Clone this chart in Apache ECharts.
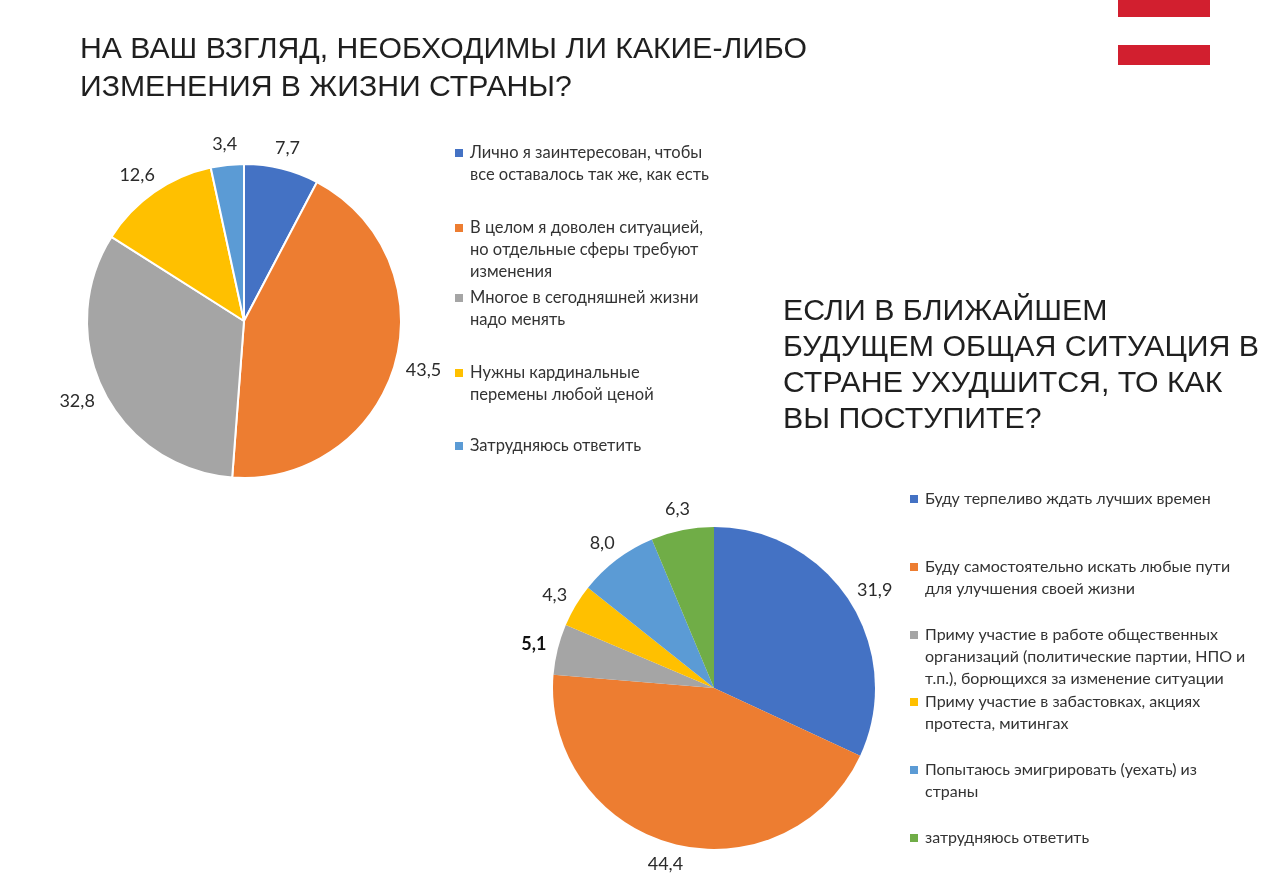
<!DOCTYPE html>
<html><head><meta charset="utf-8">
<script src="https://cdn.jsdelivr.net/npm/echarts@6/dist/echarts.min.js"></script>
<style>html,body{margin:0;padding:0;background:#fff}#c{width:1283px;height:891px}</style>
</head><body><div id="c"></div>
<script>
// ---- data ----
const title1 = "НА ВАШ ВЗГЛЯД, НЕОБХОДИМЫ ЛИ КАКИЕ-ЛИБО\nИЗМЕНЕНИЯ В ЖИЗНИ СТРАНЫ?";
const title2 = "ЕСЛИ В БЛИЖАЙШЕМ\nБУДУЩЕМ ОБЩАЯ СИТУАЦИЯ В\nСТРАНЕ УХУДШИТСЯ, ТО КАК\nВЫ ПОСТУПИТЕ?";
const categories1 = [
  "Лично я заинтересован, чтобы\nвсе оставалось так же, как есть",
  "В целом я доволен ситуацией,\nно отдельные сферы требуют\nизменения",
  "Многое в сегодняшней жизни\nнадо менять",
  "Нужны кардинальные\nперемены любой ценой",
  "Затрудняюсь ответить"
];
const values1 = [7.7, 43.5, 32.8, 12.6, 3.4];
const categories2 = [
  "Буду терпеливо ждать лучших времен",
  "Буду самостоятельно искать любые пути\nдля улучшения своей жизни",
  "Приму участие в работе общественных\nорганизаций (политические партии, НПО и\nт.п.), борющихся за изменение ситуации",
  "Приму участие в забастовках, акциях\nпротеста, митингах",
  "Попытаюсь эмигрировать (уехать) из\nстраны",
  "затрудняюсь ответить"
];
const values2 = [31.9, 44.4, 5.1, 4.3, 8.0, 6.3];

// ---- styles / layout ----
const colors1 = ["#4472C4", "#ED7D31", "#A5A5A5", "#FFC000", "#5B9BD5"];
const colors2 = ["#4472C4", "#ED7D31", "#A5A5A5", "#FFC000", "#5B9BD5", "#70AD47"];
const legend1Y = [153, 228, 298, 373, 446];
const legend2Y = [499, 567, 635, 702, 770, 838];
const FONT = "Lato";
const LABEL_GAP = 12;
const fmt = v => v.toFixed(1).replace('.', ',');

function legendGraphics(names, colors, ys, x, size) {
  const g = [];
  names.forEach((n, i) => {
    g.push({type: 'rect', shape: {x: x, y: ys[i] - 4, width: 8, height: 8}, style: {fill: colors[i]}});
    g.push({type: 'text', x: x + 15, y: ys[i] - 11, style: {text: n, font: size + 'px ' + FONT, fill: '#333', lineHeight: 22, textVerticalAlign: 'top'}});
  });
  return g;
}

// place each label centred just outside its slice, like Excel's "outside end"
function excelLabelLayout(params) {
  const pts = params.labelLinePoints;
  if (!pts) return {};
  const p0 = pts[0], p1 = pts[1];
  let dx = p1[0] - p0[0], dy = p1[1] - p0[1];
  const len = Math.sqrt(dx * dx + dy * dy) || 1;
  dx /= len; dy /= len;
  const w = params.labelRect.width, h = params.labelRect.height;
  return {
    x: p0[0] + dx * LABEL_GAP + dx * w / 2,
    y: p0[1] + dy * LABEL_GAP + dy * h / 2,
    align: 'center', verticalAlign: 'middle'
  };
}

const chart = echarts.init(document.getElementById('c'), null, {renderer: 'canvas'});
chart.setOption({
  backgroundColor: '#fff',
  animation: false,
  title: [
    {text: title1, left: 80, top: 31, padding: 0, textStyle: {fontFamily: 'Liberation Sans', fontSize: 30.2, fontWeight: 'normal', color: '#1f1f1f', lineHeight: 38}},
    {text: title2, left: 783, top: 294, padding: 0, textStyle: {fontFamily: 'Liberation Sans', fontSize: 30.3, fontWeight: 'normal', color: '#1f1f1f', lineHeight: 36}}
  ],
  graphic: [
    {type: 'rect', shape: {x: 1118, y: 0, width: 92, height: 17}, style: {fill: '#D21F2F'}},
    {type: 'rect', shape: {x: 1118, y: 45, width: 92, height: 20}, style: {fill: '#D21F2F'}},
    ...legendGraphics(categories1, colors1, legend1Y, 455, 16.5),
    ...legendGraphics(categories2, colors2, legend2Y, 910, 16)
  ],
  series: [
    {
      type: 'pie', center: [244, 321], radius: 157, startAngle: 90, clockwise: true,
      data: categories1.map((n, i) => ({name: n, value: values1[i], itemStyle: {color: colors1[i]}})),
      itemStyle: {borderColor: '#fff', borderWidth: 2},
      label: {show: true, position: 'outside', formatter: p => fmt(p.value), fontFamily: FONT, fontSize: 18, color: '#2b2b2b'},
      labelLine: {show: true, length: 10, length2: 0, lineStyle: {opacity: 0}},
      labelLayout: excelLabelLayout,
      emphasis: {disabled: true}
    },
    {
      type: 'pie', center: [714, 688], radius: 161, startAngle: 90, clockwise: true,
      data: categories2.map((n, i) => ({name: n, value: values2[i], itemStyle: {color: colors2[i]},
        label: i === 2 ? {fontWeight: 'bold', color: '#111'} : undefined})),
      itemStyle: {borderWidth: 0},
      label: {show: true, position: 'outside', formatter: p => fmt(p.value), fontFamily: FONT, fontSize: 18, color: '#2b2b2b'},
      labelLine: {show: true, length: 10, length2: 0, lineStyle: {opacity: 0}},
      labelLayout: excelLabelLayout,
      emphasis: {disabled: true}
    }
  ]
});
</script></body></html>
